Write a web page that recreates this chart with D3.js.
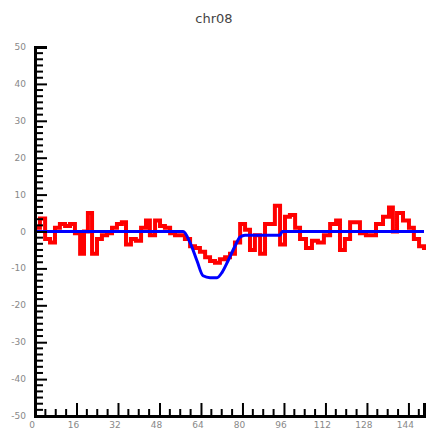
<!DOCTYPE html>
<html>
<head>
<meta charset="utf-8">
<script src="https://cdn.jsdelivr.net/npm/d3@7"></script>
<style>
  html, body { margin: 0; padding: 0; background: #fff; }
  svg { display: block; }
</style>
</head>
<body>
<svg id="chart" width="428" height="432"></svg>
<script>
// Chromosome 8 copy-number profile: raw log-ratio (red) and segmented call (blue)
const chromosome = "chr08";

// Position along the chromosome (Mb) for the raw signal
const rawPos = [0.4, 1.9, 3.9, 5.8, 7.7, 9.6, 11.6, 13.5, 15.4, 17.4, 18.9, 20.4, 22.0, 23.9, 25.8,
  27.8, 29.7, 31.6, 33.5, 35.1, 37.0, 38.9, 40.9, 42.8, 44.3, 46.3, 48.2, 50.1, 52.1, 54.0, 55.9,
  57.8, 59.8, 61.7, 63.6, 65.6, 67.5, 69.4, 71.3, 73.3, 75.2, 77.1, 79.1, 81.0, 82.9, 84.8, 86.8,
  88.7, 90.6, 92.5, 94.5, 96.4, 98.3, 100.3, 102.2, 104.5, 106.8, 109.1, 111.4, 113.8, 116.1,
  117.6, 119.5, 121.5, 123.4, 125.3, 127.6, 130.0, 131.5, 134.2, 136.5, 138.0, 139.6, 141.9,
  144.2, 146.1, 148.1, 150.0];
// Raw signal value at each position
const rawVal = [1, 3.5, -2, -3, 1, 2, 1.5, 2, -0.5, -6, 0, 5, -6, -2, -1,
  -0.5, 1, 2, 2.5, -3.5, -2, -2.5, 1, 3, -1, 3, 1.5, 1, -0.5, -1, -1,
  -2, -4, -4.5, -5.5, -7, -8, -8.5, -7.5, -7, -6, -3, 2, 0.5, -5, -1, -6,
  2, 2, 7, -3.5, 4, 4.5, 1, -2, -4.5, -2.5, -3, -1, 2, 3,
  -5, -2, 2.5, 2.5, -0.5, -1, -1, 2, 4, 6.5, 0, 5, 3,
  1, -2, -4, -5];

// Segmented call
const segPos = [0, 57.1, 59.8, 62.5, 64.8, 67.5, 70.2, 72.2, 74.4, 77.1, 79.1, 81.0, 94.5, 95.3, 150];
const segVal = [0, 0, -3, -8, -12, -12.5, -12.5, -11, -8, -4, -1.5, -1, -1, 0, 0];

// Axis ticks
const xTicks = [0, 16, 32, 48, 64, 80, 96, 112, 128, 144];
const yTicks = [-50, -40, -30, -20, -10, 0, 10, 20, 30, 40, 50];

const svg = d3.select("#chart");
const plotLeft = 35, plotRight = 424, plotTop = 47, plotBottom = 416;

const x = d3.scaleLinear().domain([0, 150]).range([plotLeft, plotRight]);
const y = d3.scaleLinear().domain([-50, 50]).range([plotBottom, plotTop]);

// Title
svg.append("text")
  .attr("x", 214).attr("y", 23)
  .attr("text-anchor", "middle")
  .attr("font-family", "DejaVu Sans, sans-serif")
  .attr("font-size", 13)
  .attr("fill", "#444")
  .text(chromosome);

// Data lines
const raw = rawPos.map((p, i) => [p, rawVal[i]]);
const seg = segPos.map((p, i) => [p, segVal[i]]);

svg.append("path")
  .datum(raw)
  .attr("fill", "none")
  .attr("stroke", "#ff0000")
  .attr("stroke-width", 4)
  .attr("d", d3.line().x(d => x(d[0])).y(d => y(d[1])).curve(d3.curveStepAfter));

svg.append("path")
  .datum(seg)
  .attr("fill", "none")
  .attr("stroke", "#0000ff")
  .attr("stroke-width", 3)
  .attr("d", d3.line().x(d => x(d[0])).y(d => y(d[1])).curve(d3.curveMonotoneX));

// Minor ticks: four per x interval, six per y interval
const xMinor = d3.range(0, 150.01, 4).filter(v => v % 16 !== 0);
const yMinor = d3.range(0, 60).map(i => -50 + i * 10 / 6).filter((v, i) => i % 6 !== 0);

const tickG = svg.append("g").attr("stroke", "#000").attr("stroke-width", 2);
xMinor.forEach(v => tickG.append("line")
  .attr("x1", x(v)).attr("x2", x(v)).attr("y1", plotBottom).attr("y2", plotBottom - 7));
yMinor.forEach(v => tickG.append("line")
  .attr("x1", plotLeft).attr("x2", plotLeft + 8).attr("y1", y(v)).attr("y2", y(v)));

// Major axes with inward ticks
const xAxis = d3.axisTop(x).tickValues(xTicks).tickSize(13).tickFormat("");
const yAxis = d3.axisRight(y).tickValues(yTicks).tickSize(12).tickFormat("");

const gx = svg.append("g").attr("transform", `translate(0,${plotBottom})`).call(xAxis);
const gy = svg.append("g").attr("transform", `translate(${plotLeft},0)`).call(yAxis);
[gx, gy].forEach(g => {
  g.select(".domain").attr("stroke", "#000").attr("stroke-width", 3);
  g.selectAll(".tick line").attr("stroke", "#000").attr("stroke-width", 2);
});

// Tick labels
svg.append("g").selectAll("text").data(yTicks).join("text")
  .attr("x", plotLeft - 9).attr("y", d => y(d) + 3)
  .attr("text-anchor", "end")
  .attr("font-family", "DejaVu Sans, sans-serif")
  .attr("font-size", 9)
  .attr("fill", "#888")
  .text(d => d);

svg.append("g").selectAll("text").data(xTicks).join("text")
  .attr("x", d => x(d) - 3).attr("y", plotBottom + 12)
  .attr("text-anchor", "middle")
  .attr("font-family", "DejaVu Sans, sans-serif")
  .attr("font-size", 9)
  .attr("fill", "#888")
  .text(d => d);
</script>
</body>
</html>
